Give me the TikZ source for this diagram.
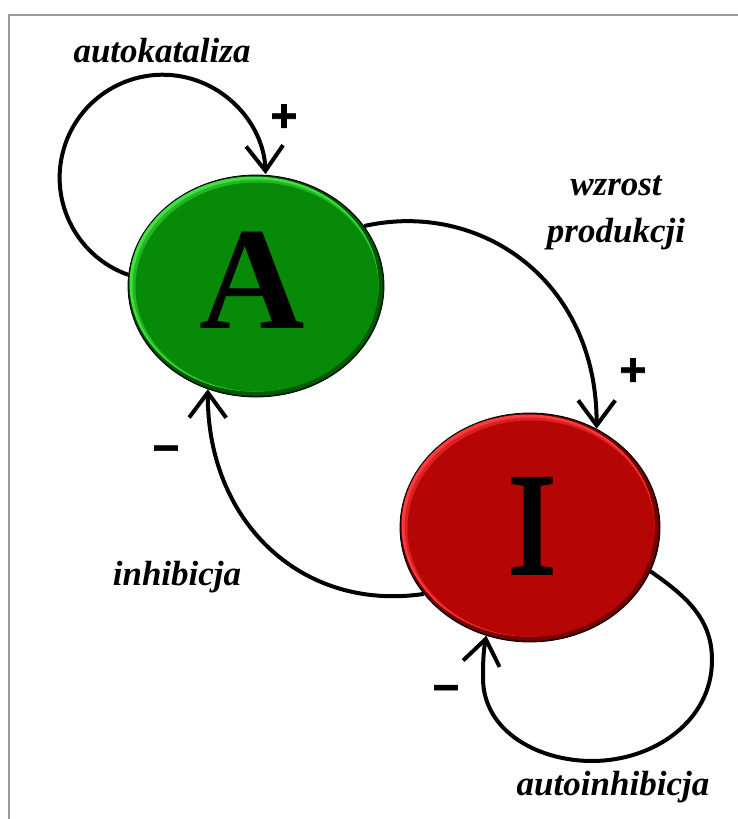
\documentclass[tikz,border=0pt]{standalone}
\usepackage{fontspec}
\setmainfont{Liberation Serif}
\newfontfamily\signfont{Liberation Sans}[BoldFont={* Bold},BoldFeatures={FakeBold=1.5}]
\newfontfamily\stemfont{Liberation Serif}[FakeBold=2.5]
\usetikzlibrary{arrows.meta,shapes.geometric}

\definecolor{frameGray}{HTML}{9A9A9A}
\definecolor{greenMain}{HTML}{078A07}
\definecolor{greenLight}{HTML}{3FE03F}
\definecolor{greenDark}{HTML}{033803}
\definecolor{redMain}{HTML}{B50505}
\definecolor{redLight}{HTML}{FF3A3A}
\definecolor{redDark}{HTML}{4A0202}

\tikzset{
  % bevelled ellipse: dark rim, bright upper-left edge, main face
  bubble/.style n args={5}{
    shape=ellipse, inner sep=0pt,
    minimum width=#1*2pt, minimum height=#2*2pt,
    fill=#5, draw=black, line width=0.8pt,
    path picture={
      \fill[#5!60!#3] (path picture bounding box.center)
        ellipse[x radius=#1pt-1.5pt, y radius=#2pt-1.5pt];
      \fill[#4] ([shift={(-2pt,2pt)}]path picture bounding box.center)
        ellipse[x radius=#1pt-3.5pt, y radius=#2pt-3.5pt];
      \fill[#4!50!#3] ([shift={(-0.5pt,0.5pt)}]path picture bounding box.center)
        ellipse[x radius=#1pt-5pt, y radius=#2pt-5pt];
      \fill[#3] ([shift={(1pt,-1pt)}]path picture bounding box.center)
        ellipse[x radius=#1pt-6.5pt, y radius=#2pt-6.5pt];
    }
  },
  letter/.style={inner sep=0pt, anchor=base},
  link/.style={line width=4pt, black,
    -{Straight Barb[length=25pt, width=37pt, line width=4pt]}},
  caption/.style={font=\fontsize{35}{47}\selectfont\bfseries\itshape,
    align=center, inner sep=0pt},
  sign/.style={font=\signfont\fontsize{46}{46}\selectfont\bfseries,
    inner sep=0pt}
}

\begin{document}
\begin{tikzpicture}[x=1pt, y=1pt]
  \useasboundingbox (0,0) rectangle (738,-819);
  % page frame (top and left edges)
  \draw[frameGray, line width=2pt] (9,-835) -- (9,-14.5) -- (745,-14.5);

  % the two species
  \node[bubble={128}{111}{greenMain}{greenLight}{greenDark}] (A) at (256,-286) {};
  \node[bubble={130}{114.5}{redMain}{redLight}{redDark}] (I) at (530,-527.5) {};
  \node[letter, font=\fontsize{146}{146}\selectfont\bfseries] (Aletter) at (252,-328) {A};
  \node[letter, font=\stemfont\fontsize{144}{144}\selectfont] (Iletter) at (532,-573) {I};

  % autocatalysis loop on A
  \draw[link] (A.175) arc[start angle=250.5, end angle=2, radius=103pt];
  % A stimulates production of I
  \draw[link] (A.29) .. controls (480,-200) and (597,-280) .. (I.56);
  % I inhibits A
  \draw[link] (I.212) .. controls (300,-612) and (207,-520) .. (A.245);
  % autoinhibition loop on I
  \coordinate (r) at (712,-660);
  \coordinate (b) at (592,-761);
  \coordinate (l) at (483,-678);
  \draw[link] (I.-20) to[out=-35, in=90] (r) to[out=-90, in=0] (b)
    to[out=180, in=-90] (l) to[out=90, in=-100] (I.248);

  % labels
  \node[caption, anchor=base] (t1) at (162,-62) {autokataliza};
  \node[caption, anchor=base] (t2) at (616,-242) {wzrost\\produkcji};
  \node[caption, anchor=base] (t3) at (177,-585) {inhibicja};
  \node[caption, anchor=base] (t4) at (613,-795) {autoinhibicja};

  \node[sign] (p1) at (284,-118) {+};
  \node[sign] (p2) at (633,-372) {+};
  \node[sign] (m1) at (166,-454.5) {\char"2212};
  \node[sign] (m2) at (446,-694) {\char"2212};
\end{tikzpicture}
\end{document}
